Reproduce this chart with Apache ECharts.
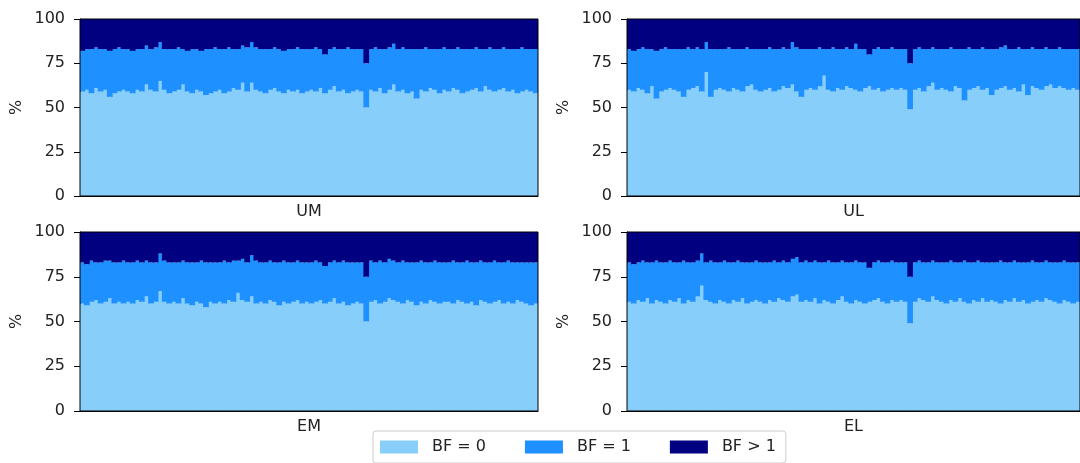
<!DOCTYPE html>
<html>
<head>
<meta charset="utf-8">
<script src="https://cdn.jsdelivr.net/npm/echarts@6/dist/echarts.min.js"></script>
<style>html,body{margin:0;padding:0;background:#fff}#c{width:1080px;height:463px}</style>
</head>
<body>
<div id="c"></div>
<script>
// Panel names
const panels = ['UM', 'UL', 'EM', 'EL'];
const legendNames = ['BF = 0', 'BF = 1', 'BF > 1'];
const yTicks = [0, 25, 50, 75, 100];

// UM
const umBF0 = [59,60,58,61,59,60,56,58,59,60, 59,58,60,59,63,60,59,65,60,58, 59,60,63,59,58,60,59,57,58,59, 60,58,59,61,60,64,59,64,60,59, 58,60,61,59,58,60,59,60,58,59, 60,59,61,58,60,62,59,60,58,59, 60,59,50,60,59,61,58,60,63,59, 60,58,59,55,60,59,61,60,58,60, 59,61,60,58,59,60,61,59,62,60, 59,60,61,59,60,58,59,60,59,58];
const umBF1 = [23,23,25,23,24,23,26,25,25,23, 24,24,23,24,22,23,25,22,23,25, 24,24,20,23,25,23,23,26,25,25, 23,25,25,22,23,21,25,23,24,24, 25,23,23,24,24,23,24,24,25,24, 23,25,22,22,23,22,24,23,26,24, 23,24,25,23,25,22,25,24,23,24, 24,25,24,28,23,25,22,23,25,24, 24,22,24,25,24,23,23,24,21,24, 24,23,23,24,23,25,25,23,24,25];
const umBFgt1 = [18,17,17,16,17,17,18,17,16,17, 17,18,17,17,15,17,16,13,17,17, 17,16,17,18,17,17,18,17,17,16, 17,17,16,17,17,15,16,13,16,17, 17,17,16,17,18,17,17,16,17,17, 17,16,17,20,17,16,17,17,16,17, 17,17,25,17,16,17,17,16,14,17, 16,17,17,17,17,16,17,17,17,16, 17,17,16,17,17,17,16,17,17,16, 17,17,16,17,17,17,16,17,17,17];

// UL
const ulBF0 = [60,59,61,60,58,62,55,59,60,61, 60,59,56,60,61,62,59,70,56,60, 61,60,59,61,60,59,62,63,60,59, 60,61,59,60,62,61,63,59,56,60, 61,60,62,68,60,59,61,60,62,61, 60,59,61,62,60,61,59,60,61,60, 61,60,49,60,61,59,62,64,60,61, 60,59,62,61,54,60,61,62,60,61, 57,60,61,62,60,61,59,63,57,62, 61,60,62,63,61,62,61,60,61,60];
const ulBF1 = [23,23,22,24,25,21,27,24,24,22, 23,24,27,24,22,22,24,17,27,23, 22,23,25,22,23,24,22,20,23,24, 23,23,24,23,22,22,24,25,27,23, 22,23,22,15,23,25,22,23,22,22, 26,24,22,18,23,23,24,23,23,23, 22,23,26,23,23,24,21,20,23,22, 23,25,21,22,29,24,22,21,24,22, 26,23,23,23,23,22,25,20,26,22, 22,23,22,20,22,22,22,23,22,23];
const ulBFgt1 = [17,18,17,16,17,17,18,17,16,17, 17,17,17,16,17,16,17,13,17,17, 17,17,16,17,17,17,16,17,17,17, 17,16,17,17,16,17,13,16,17,17, 17,17,16,17,17,16,17,17,16,17, 14,17,17,20,17,16,17,17,16,17, 17,17,25,17,16,17,17,16,17,17, 17,16,17,17,17,16,17,17,16,17, 17,17,16,15,17,17,16,17,17,16, 17,17,16,17,17,16,17,17,17,17];

// EM
const emBF0 = [60,59,61,62,60,61,63,60,61,60, 61,60,62,61,64,60,61,67,61,60, 61,60,63,60,59,61,60,58,61,60, 61,60,62,61,66,62,61,64,60,61, 60,62,61,59,61,60,61,62,60,61, 60,61,62,60,61,63,60,61,59,60, 61,60,50,61,62,60,61,63,62,61, 60,62,61,59,61,60,62,61,60,61, 61,60,62,61,60,61,59,62,61,60, 61,62,60,61,60,62,61,60,59,60];
const emBF1 = [23,23,23,21,23,23,21,23,22,24, 22,23,22,22,20,23,22,21,23,23, 22,23,21,23,24,22,24,25,22,23, 22,24,21,23,18,23,22,23,24,22, 23,22,22,24,23,23,22,22,23,22, 23,23,21,21,22,21,23,23,24,23, 22,23,25,23,21,24,22,22,22,22, 24,21,22,24,23,23,21,23,23,22, 22,24,21,22,24,22,24,22,22,23, 23,21,23,23,23,21,22,23,24,23];
const emBFgt1 = [17,18,16,17,17,16,16,17,17,16, 17,17,16,17,16,17,17,12,16,17, 17,17,16,17,17,17,16,17,17,17, 17,16,17,16,16,15,17,13,16,17, 17,16,17,17,16,17,17,16,17,17, 17,16,17,19,17,16,17,16,17,17, 17,17,25,16,17,16,17,15,16,17, 16,17,17,17,16,17,17,16,17,17, 17,16,17,17,16,17,17,16,17,17, 16,17,17,16,17,17,17,17,17,17];

// EL
const elBF0 = [61,60,62,61,63,60,62,61,60,62, 61,63,60,62,61,64,70,62,61,60, 62,61,60,62,61,63,60,61,62,61, 60,62,61,63,62,61,64,65,61,62, 61,63,60,62,61,60,62,64,61,60, 62,61,60,61,62,63,61,60,62,61, 62,61,49,61,63,62,61,64,62,61, 60,62,61,63,61,60,62,61,63,61, 62,61,60,62,61,63,61,62,60,61, 62,61,63,62,61,60,62,61,60,61];
const elBF1 = [22,22,21,23,20,23,22,22,23,22, 22,20,24,21,22,20,18,21,23,23, 21,23,23,21,23,20,23,22,22,22, 23,21,23,20,22,22,21,21,22,22, 22,21,23,21,23,23,21,20,22,23, 22,22,23,19,21,21,22,23,22,22, 21,22,26,22,21,21,22,20,21,22, 23,22,22,20,23,23,21,23,20,22, 21,22,24,21,22,21,22,21,23,23, 21,22,21,21,22,23,22,22,23,22];
const elBFgt1 = [17,18,17,16,17,17,16,17,17,16, 17,17,16,17,17,16,12,17,16,17, 17,16,17,17,16,17,17,17,16,17, 17,17,16,17,16,17,15,14,17,16, 17,16,17,17,16,17,17,16,17,17, 16,17,17,20,17,16,17,17,16,17, 17,17,25,17,16,17,17,16,17,17, 17,16,17,17,16,17,17,16,17,17, 17,17,16,17,17,16,17,17,17,16, 17,17,16,17,17,17,16,17,17,17];

const panelData = [
  [umBF0, umBF1, umBFgt1],
  [ulBF0, ulBF1, ulBFgt1],
  [emBF0, emBF1, emBFgt1],
  [elBF0, elBF1, elBFgt1]
];
const categories = umBF0.map((_, i) => String(i + 1));
const colors = ['#87CEFA', '#1E90FF', '#000080'];

const gridPos = [
  {left: 80, top: 19, width: 458, height: 177},
  {left: 627, top: 19, width: 458, height: 177},
  {left: 80, top: 232, width: 458, height: 179},
  {left: 627, top: 232, width: 458, height: 179}
];
const txt = '#222222';
const font = 'DejaVu Sans';

const option = {
  animation: false,
  textStyle: {fontFamily: font},
  grid: gridPos.map(g => Object.assign({show: true, borderColor: '#000', borderWidth: 1, backgroundColor: 'transparent', z: 10}, g)),
  xAxis: panels.map((p, i) => ({
    type: 'category', gridIndex: i, data: categories,
    name: p, nameLocation: 'middle', nameGap: 8,
    nameTextStyle: {fontSize: 16, color: txt, fontFamily: font},
    axisLine: {show: true, lineStyle: {color: '#000', width: 1}},
    axisTick: {show: false}, axisLabel: {show: false}, splitLine: {show: false}
  })),
  yAxis: panels.map((p, i) => ({
    type: 'value', gridIndex: i, min: 0, max: 100, interval: 25,
    name: '%', nameLocation: 'middle', nameRotate: 90, nameGap: 55,
    nameTextStyle: {fontSize: 16, color: txt, fontFamily: font},
    axisLine: {show: true, lineStyle: {color: '#000', width: 1}},
    axisTick: {show: true, inside: false, length: 6, lineStyle: {color: '#000'}},
    axisLabel: {fontSize: 16, color: txt, margin: 15, fontFamily: font,
      formatter: v => yTicks.indexOf(v) >= 0 ? String(v) : ''},
    splitLine: {show: false}
  })),
  legend: {
    data: legendNames, left: 373, top: 431,
    padding: [8, 10, 8, 7], itemGap: 39, itemWidth: 38, itemHeight: 13,
    borderColor: '#cccccc', borderWidth: 1, borderRadius: 3, backgroundColor: '#fff',
    icon: 'rect',
    textStyle: {fontSize: 16, color: txt, fontFamily: font, padding: [0, 0, 0, 9]}
  },
  series: []
};

panelData.forEach((arrs, gi) => {
  arrs.forEach((arr, si) => {
    option.series.push({
      type: 'bar', name: legendNames[si], xAxisIndex: gi, yAxisIndex: gi,
      stack: 'p' + gi, data: arr, barWidth: '125%', barGap: '-100%',
      itemStyle: {color: colors[si]},
      emphasis: {disabled: true}
    });
  });
});

const chart = echarts.init(document.getElementById('c'), null, {renderer: 'canvas'});
chart.setOption(option);
</script>
</body>
</html>
